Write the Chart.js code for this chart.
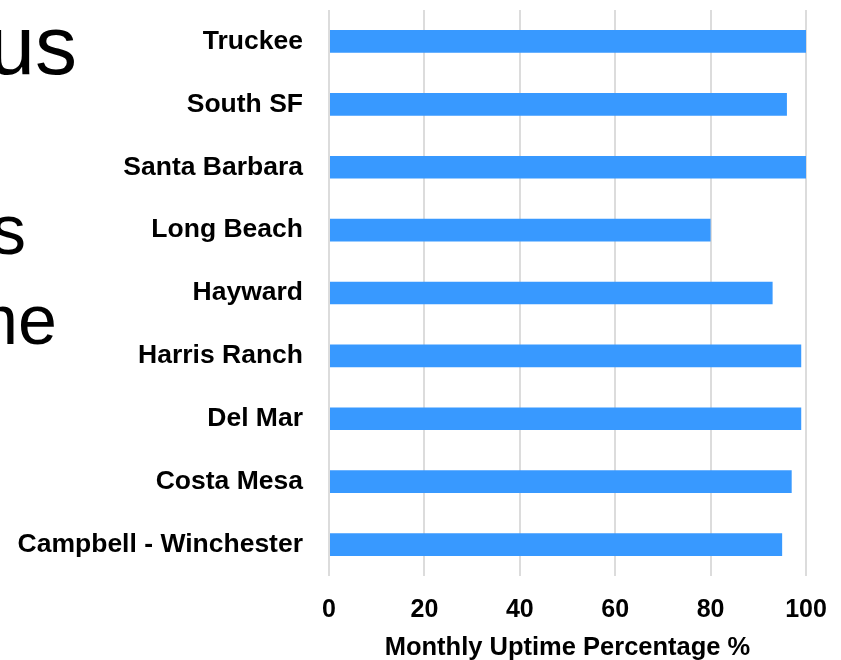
<!DOCTYPE html>
<html>
<head>
<meta charset="utf-8">
<script src="https://cdn.jsdelivr.net/npm/chart.js@4.4.1/dist/chart.umd.min.js"></script>
<style>
  body { margin: 0; background: #fff; }
  #wrap { position: relative; width: 841px; height: 660px; overflow: hidden; }
  .bg { position: absolute; font-family: "Liberation Sans", Arial, sans-serif; line-height: 1; white-space: nowrap; text-align: right; color: #000; }
  canvas { position: absolute; left: 0; top: 0; }
</style>
</head>
<body>
<div id="wrap">
  <div class="bg" style="right:764px; top:3px; font-size:84px;">us</div>
  <div class="bg" style="right:815px; top:195px; font-size:70px;">s</div>
  <div class="bg" style="right:784px; top:285px; font-size:70px;">me</div>
  <canvas id="grafico" width="841" height="660"></canvas>
</div>
<script>
const cidades = ['Truckee', 'South SF', 'Santa Barbara', 'Long Beach', 'Hayward',
                 'Harris Ranch', 'Del Mar', 'Costa Mesa', 'Campbell - Winchester'];
const uptime = [100, 96, 100, 80, 93, 99, 99, 97, 95];
const ticksX = [0, 20, 40, 60, 80, 100];

const familia = '"Liberation Sans", Arial, sans-serif';

const ctx = document.getElementById('grafico');

new Chart(ctx, {
    type: 'bar',
    data: {
        labels: cidades,
        datasets: [{
            label: 'Monthly Uptime',
            data: uptime,
            backgroundColor: '#3899ff',
            borderWidth: 0,
            barPercentage: 0.36,
            categoryPercentage: 1
        }]
    },
    options: {
        indexAxis: 'y',
        responsive: false,
        animation: false,
        devicePixelRatio: 1,
        layout: { padding: { top: 10, right: 35, left: 0, bottom: 0 } },
        plugins: {
            legend: { display: false },
            tooltip: { enabled: false }
        },
        scales: {
            x: {
                min: 0,
                max: 100,
                afterBuildTicks: s => { s.ticks = ticksX.map(v => ({ value: v })); },
                afterFit: s => { s.height = 84; s.paddingLeft = 0; s.paddingRight = 0; },
                grid: { color: '#dcdcdc', lineWidth: 2, drawTicks: false },
                border: { display: false },
                ticks: { color: '#000', font: { family: familia, size: 25, weight: 'bold' }, padding: 19 },
                title: {
                    display: true,
                    text: 'Monthly Uptime Percentage %',
                    color: '#000',
                    font: { family: familia, size: 25.5, weight: 'bold' },
                    padding: { top: 0, bottom: -3 }
                }
            },
            y: {
                afterFit: s => { s.width = 329; s.paddingTop = 0; s.paddingBottom = 0; },
                grid: { display: false, drawTicks: false },
                border: { display: false },
                ticks: { color: '#000', font: { family: familia, size: 26.5, weight: 'bold' }, padding: 26 }
            }
        }
    }
});
</script>
</body>
</html>
